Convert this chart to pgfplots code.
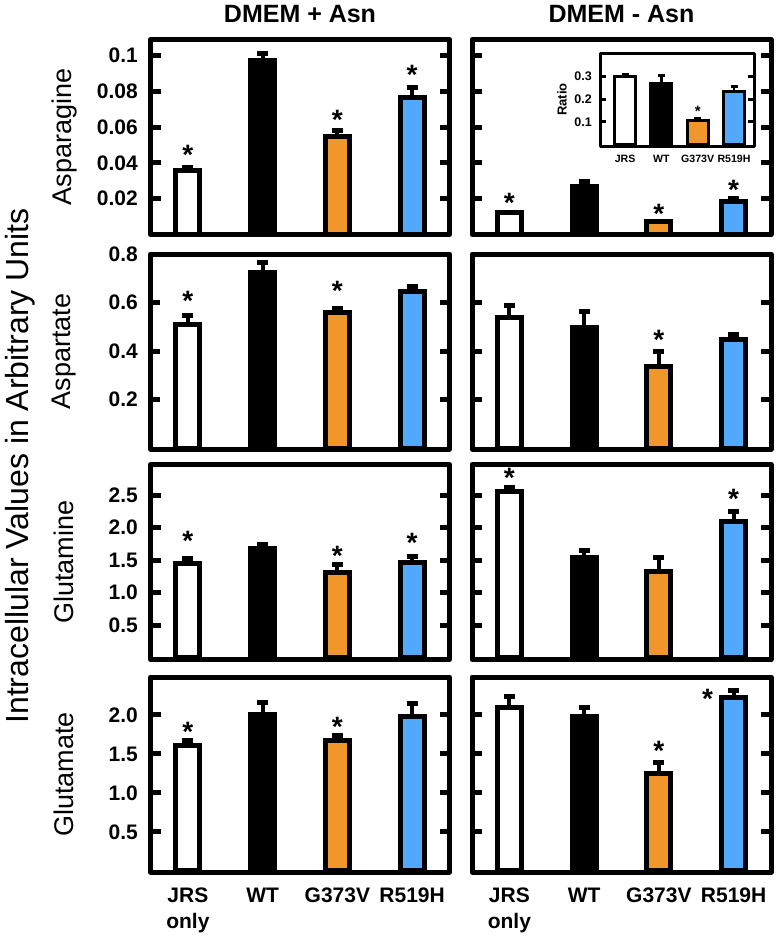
\documentclass[border=0pt]{standalone}
\usepackage{fontspec}
\setmainfont{Liberation Sans}
\usepackage{pgfplots}
\pgfplotsset{compat=1.18}
\definecolor{borange}{RGB}{240,150,42}
\definecolor{bblue}{RGB}{82,168,250}
\newcommand\tickfont{\fontsize{21}{21}\selectfont\bfseries}
\newcommand\labfont{\fontsize{27}{27}\selectfont}
\newcommand\titfont{\fontsize{25}{25}\selectfont\bfseries}
\newcommand\xlfont{\fontsize{21}{26}\selectfont\bfseries}
\newcommand\insfont{\fontsize{10.6}{10.6}\selectfont\bfseries}
\newcommand\starfont{\fontsize{28}{28}\selectfont\bfseries}
\tikzset{star/.style={font=\starfont, anchor=base, yshift=-13pt, inner sep=0pt},
         istar/.style={font=\fontsize{15}{15}\selectfont\bfseries, anchor=base, yshift=-7.5pt, inner sep=0pt}}
\pgfplotsset{
  panel/.style={
    scale only axis, width=299pt, height=195pt, anchor=south west,
    xmin=-0.5, xmax=3.5, xtick=\empty,
    axis line style={line width=5pt, line join=round},
    tick align=inside, major tick length=10pt,
    ytick style={line width=5pt, black},
    yticklabel style={font=\tickfont, anchor=east, inner sep=0pt, xshift=-12.5pt},
    ylabel style={font=\labfont, at={(axis description cs:-0.289,0.5)}, anchor=center},
    title style={font=\titfont, at={(axis description cs:0.5,1)}, anchor=base, yshift=11.5pt},
    clip=false,
  },
  bottomrow/.style={
    xtick={0,1,2,3}, xticklabels={{JRS\\only},WT,G373V,R519H},
    xtick style={draw=none},
    xticklabel style={font=\xlfont, align=center, anchor=north, inner sep=0pt, yshift=-16pt},
  },
  bstyle/.style={ybar, bar width=0.32, bar shift=0pt, draw=black, line width=5pt, fill=#1,
    error bars/.cd, y dir=plus, y explicit, error mark=-,
    error bar style={line width=4pt, black},
    error mark options={rotate=90, line width=5pt, black, mark size=5.5pt}},
  ibar/.style={ybar, bar width=0.58, bar shift=0pt, draw=black, line width=3pt, fill=#1,
    error bars/.cd, y dir=plus, y explicit, error mark=-,
    error bar style={line width=2.5pt, black},
    error mark options={rotate=90, line width=3pt, black, mark size=3.5pt}},
}
\begin{document}
\begin{tikzpicture}
\useasboundingbox (0,0) rectangle (777pt,-938pt);

% ---------- Row 1: Asparagine ----------
\begin{axis}[panel, at={(150.5pt,-234.5pt)}, ymin=0, ymax=0.109,
  ytick={0.02,0.04,0.06,0.08,0.1}, yticklabels={0.02,0.04,0.06,0.08,0.1},
  ylabel={Asparagine}, title={DMEM + Asn}]
\addplot[bstyle=white]   coordinates {(0,0.036) +- (0,0.0015)};
\addplot[bstyle=black]   coordinates {(1,0.097) +- (0,0.004)};
\addplot[bstyle=borange] coordinates {(2,0.055) +- (0,0.003)};
\addplot[bstyle=bblue]   coordinates {(3,0.0765) +- (0,0.0055)};
\node[star] at (axis cs:0,0.0463) {*};
\node[star] at (axis cs:2,0.066) {*};
\node[star] at (axis cs:3,0.091) {*};
\end{axis}
\begin{axis}[panel, at={(472pt,-234.5pt)}, ymin=0, ymax=0.109,
  ytick={0.02,0.04,0.06,0.08,0.1}, yticklabels={},
  title={DMEM - Asn}]
\addplot[bstyle=white]   coordinates {(0,0.0122) +- (0,0.0002)};
\addplot[bstyle=black]   coordinates {(1,0.0266) +- (0,0.003)};
\addplot[bstyle=borange] coordinates {(2,0.0072) +- (0,0.0002)};
\addplot[bstyle=bblue]   coordinates {(3,0.0182) +- (0,0.0018)};
\node[star] at (axis cs:0,0.0196) {*};
\node[star] at (axis cs:2,0.0134) {*};
\node[star] at (axis cs:3,0.0268) {*};
\end{axis}
% inset
\begin{axis}[scale only axis, width=154pt, height=93pt, anchor=south west,
  at={(600pt,-146pt)}, xmin=-0.69, xmax=3.55, ymin=-0.006, ymax=0.402,
  axis line style={line width=3pt, line join=round},
  axis background/.style={fill=white},
  tick align=inside, major tick length=6pt,
  ytick={0.1,0.2,0.3}, yticklabels={0.1,0.2,0.3},
  ytick style={line width=3pt, black},
  yticklabel style={font=\fontsize{12.5}{12.5}\selectfont\bfseries, anchor=east, inner sep=0pt, xshift=-8pt},
  xtick={0,1,2,3}, xticklabels={JRS,WT,G373V,R519H}, xtick style={draw=none},
  xticklabel style={font=\insfont, anchor=north, inner sep=0pt, yshift=-9pt},
  ylabel={Ratio}, ylabel style={font=\fontsize{13}{13}\selectfont\bfseries, at={(axis description cs:-0.247,0.5)}, anchor=center},
  clip=false]
\addplot[ibar=white]   coordinates {(0,0.300) +- (0,0.006)};
\addplot[ibar=black]   coordinates {(1,0.270) +- (0,0.034)};
\addplot[ibar=borange] coordinates {(2,0.108) +- (0,0.005)};
\addplot[ibar=bblue]   coordinates {(3,0.232) +- (0,0.025)};
\node[istar] at (axis cs:2,0.155) {*};
\end{axis}

% ---------- Row 2: Aspartate ----------
\begin{axis}[panel, at={(150.5pt,-449pt)}, ymin=-0.004, ymax=0.8,
  ytick={0.2,0.4,0.6,0.8}, yticklabels={0.2,0.4,0.6,0.8},
  ylabel={Aspartate}]
\addplot[bstyle=white]   coordinates {(0,0.511) +- (0,0.037)};
\addplot[bstyle=black]   coordinates {(1,0.722) +- (0,0.045)};
\addplot[bstyle=borange] coordinates {(2,0.557) +- (0,0.020)};
\addplot[bstyle=bblue]   coordinates {(3,0.647) +- (0,0.021)};
\node[star] at (axis cs:0,0.619) {*};
\node[star] at (axis cs:2,0.660) {*};
\end{axis}
\begin{axis}[panel, at={(472pt,-449pt)}, ymin=-0.004, ymax=0.8,
  ytick={0.2,0.4,0.6,0.8}, yticklabels={}]
\addplot[bstyle=white]   coordinates {(0,0.540) +- (0,0.046)};
\addplot[bstyle=black]   coordinates {(1,0.499) +- (0,0.062)};
\addplot[bstyle=borange] coordinates {(2,0.338) +- (0,0.062)};
\addplot[bstyle=bblue]   coordinates {(3,0.449) +- (0,0.021)};
\node[star] at (axis cs:2,0.458) {*};
\end{axis}

% ---------- Row 3: Glutamine ----------
\begin{axis}[panel, at={(150.5pt,-659.5pt)}, ymin=-0.03, ymax=2.97,
  ytick={0.5,1.0,1.5,2.0,2.5}, yticklabels={0.5,1.0,1.5,2.0,2.5},
  ylabel={Glutamine}]
\addplot[bstyle=white]   coordinates {(0,1.454) +- (0,0.077)};
\addplot[bstyle=black]   coordinates {(1,1.685) +- (0,0.061)};
\addplot[bstyle=borange] coordinates {(2,1.315) +- (0,0.123)};
\addplot[bstyle=bblue]   coordinates {(3,1.469) +- (0,0.093)};
\node[star] at (axis cs:0,1.854) {*};
\node[star] at (axis cs:2,1.623) {*};
\node[star] at (axis cs:3,1.823) {*};
\end{axis}
\begin{axis}[panel, at={(472pt,-659.5pt)}, ymin=-0.03, ymax=2.97,
  ytick={0.5,1.0,1.5,2.0,2.5}, yticklabels={}]
\addplot[bstyle=white]   coordinates {(0,2.560) +- (0,0.055)};
\addplot[bstyle=black]   coordinates {(1,1.546) +- (0,0.108)};
\addplot[bstyle=borange] coordinates {(2,1.320) +- (0,0.226)};
\addplot[bstyle=bblue]   coordinates {(3,2.090) +- (0,0.164)};
\node[star] at (axis cs:0,2.810) {*};
\node[star] at (axis cs:3,2.500) {*};
\end{axis}

% ---------- Row 4: Glutamate ----------
\begin{axis}[panel, bottomrow, at={(150.5pt,-872pt)}, ymin=-0.013, ymax=2.487,
  ytick={0.5,1.0,1.5,2.0}, yticklabels={0.5,1.0,1.5,2.0},
  ylabel={Glutamate}]
\addplot[bstyle=white]   coordinates {(0,1.603) +- (0,0.064)};
\addplot[bstyle=black]   coordinates {(1,2.000) +- (0,0.154)};
\addplot[bstyle=borange] coordinates {(2,1.679) +- (0,0.052)};
\addplot[bstyle=bblue]   coordinates {(3,1.987) +- (0,0.154)};
\node[star] at (axis cs:0,1.833) {*};
\node[star] at (axis cs:2,1.897) {*};
\end{axis}
\begin{axis}[panel, bottomrow, at={(472pt,-872pt)}, ymin=-0.013, ymax=2.487,
  ytick={0.5,1.0,1.5,2.0}, yticklabels={}]
\addplot[bstyle=white]   coordinates {(0,2.090) +- (0,0.141)};
\addplot[bstyle=black]   coordinates {(1,1.987) +- (0,0.103)};
\addplot[bstyle=borange] coordinates {(2,1.256) +- (0,0.129)};
\addplot[bstyle=bblue]   coordinates {(3,2.218) +- (0,0.090)};
\node[star] at (axis cs:2,1.577) {*};
\node[star] at (axis cs:2.65,2.256) {*};
\end{axis}

\node[font=\fontsize{32}{32}\selectfont, rotate=90, anchor=center] at (20pt,-466pt)
  {Intracellular Values in Arbitrary Units};
\end{tikzpicture}
\end{document}
